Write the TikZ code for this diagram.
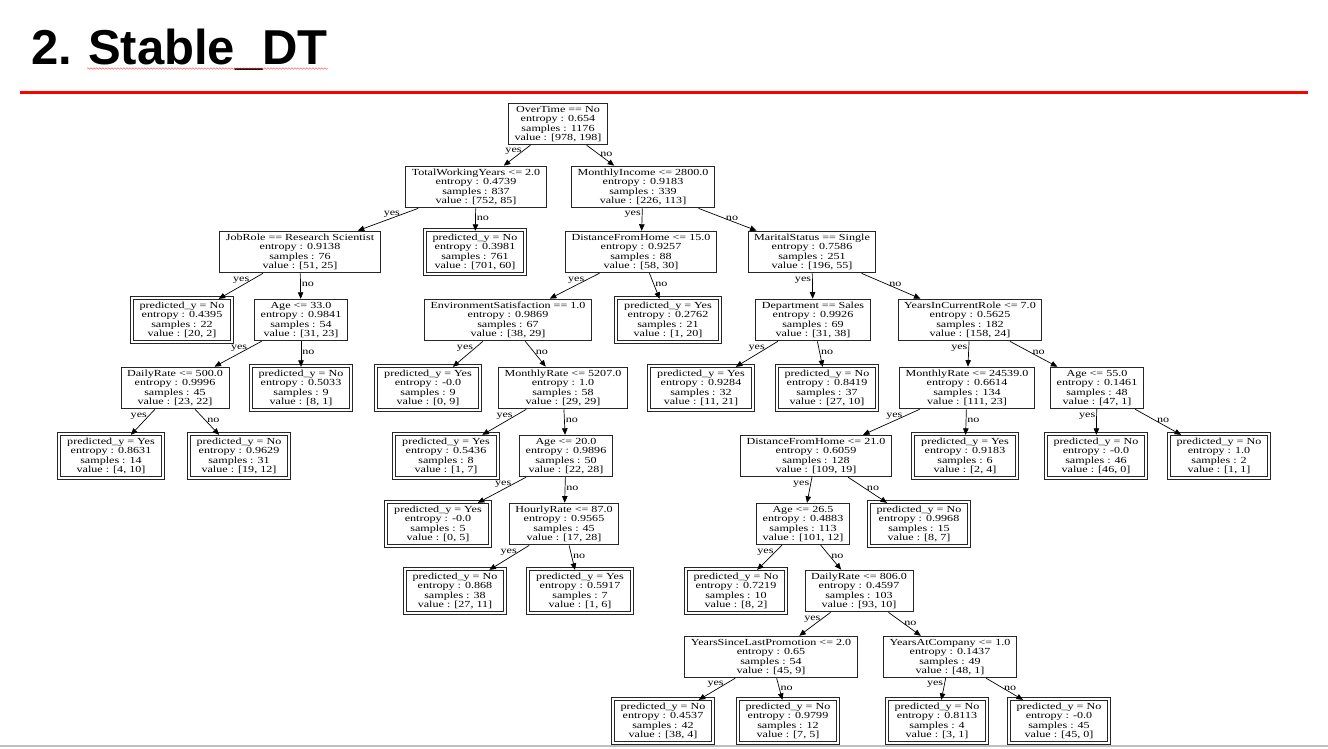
\documentclass[tikz,border=0pt]{standalone}
\usepackage{fontspec}
\usetikzlibrary{arrows.meta,decorations.pathmorphing}
\newfontfamily\treefont[FakeStretch=1.3]{Liberation Serif}
\newfontfamily\titlefont{Liberation Sans}
\tikzset{
  box/.style={draw=black!85, line width=0.9pt, rectangle, inner xsep=6pt, inner ysep=3pt,
    align=center, font={\treefont\fontsize{9.3}{9.3}\selectfont}},
  leafbox/.style={box, inner xsep=6.5pt, inner ysep=2.8pt},
  frame/.style={draw=black!85, line width=0.9pt},
  tedge/.style={-{Triangle[length=6.5pt,width=5.5pt]}, line width=0.7pt, black},
  ylab/.style={pos=0.28, anchor=east, inner sep=1pt, font={\treefont\fontsize{9.3}{9.3}\selectfont}},
  nlab/.style={pos=0.45, anchor=west, inner sep=1pt, font={\treefont\fontsize{9.3}{9.3}\selectfont}},
}
\begin{document}
\begin{tikzpicture}[x=1pt,y=-1pt]
\useasboundingbox (0,0) rectangle (1328,749);
\fill[white] (0,0) rectangle (1328,749);
% title
\node[anchor=base west, inner sep=0pt, font={\titlefont\bfseries\fontsize{49}{55}\selectfont}] (title) at (31,65) {2.\kern-2pt{} Stable\_DT};
\draw[red!80, line width=0.3pt, decorate, decoration={snake, amplitude=0.8pt, segment length=3pt}] (87,68.5) -- (328,68.5);
\draw[red, line width=3pt] (20,93) -- (1308,93);
\draw[black!25, line width=1.5pt] (0,746) -- (1328,746);

% nodes
\node[box] (n0) at (558,124) {OverTime == No\\entropy : 0.654\\samples : 1176\\value : [978, 198]};
\node[box] (n1) at (476,187) {TotalWorkingYears <= 2.0\\entropy : 0.4739\\samples : 837\\value : [752, 85]};
\node[box] (n2) at (643,187) {MonthlyIncome <= 2800.0\\entropy : 0.9183\\samples : 339\\value : [226, 113]};
\node[box] (n3) at (300,252) {JobRole == Research Scientist\\entropy : 0.9138\\samples : 76\\value : [51, 25]};
\node[leafbox] (n4) at (475,252) {predicted\_y = No\\entropy : 0.3981\\samples : 761\\value : [701, 60]};
\node[box] (n5) at (641,252) {DistanceFromHome <= 15.0\\entropy : 0.9257\\samples : 88\\value : [58, 30]};
\node[box] (n6) at (812,252) {MaritalStatus == Single\\entropy : 0.7586\\samples : 251\\value : [196, 55]};
\node[leafbox] (n7) at (182,320) {predicted\_y = No\\entropy : 0.4395\\samples : 22\\value : [20, 2]};
\node[box] (n8) at (301,320) {Age <= 33.0\\entropy : 0.9841\\samples : 54\\value : [31, 23]};
\node[box] (n9) at (508,320) {EnvironmentSatisfaction == 1.0\\entropy : 0.9869\\samples : 67\\value : [38, 29]};
\node[leafbox] (n10) at (668,320) {predicted\_y = Yes\\entropy : 0.2762\\samples : 21\\value : [1, 20]};
\node[box] (n11) at (813,320) {Department == Sales\\entropy : 0.9926\\samples : 69\\value : [31, 38]};
\node[box] (n12) at (970,320) {YearsInCurrentRole <= 7.0\\entropy : 0.5625\\samples : 182\\value : [158, 24]};
\node[box] (n13) at (175,388) {DailyRate <= 500.0\\entropy : 0.9996\\samples : 45\\value : [23, 22]};
\node[leafbox] (n14) at (301,388) {predicted\_y = No\\entropy : 0.5033\\samples : 9\\value : [8, 1]};
\node[leafbox] (n15) at (428,388) {predicted\_y = Yes\\entropy : -0.0\\samples : 9\\value : [0, 9]};
\node[box] (n16) at (563,388) {MonthlyRate <= 5207.0\\entropy : 1.0\\samples : 58\\value : [29, 29]};
\node[leafbox] (n17) at (701,388) {predicted\_y = Yes\\entropy : 0.9284\\samples : 32\\value : [11, 21]};
\node[leafbox] (n18) at (827,388) {predicted\_y = No\\entropy : 0.8419\\samples : 37\\value : [27, 10]};
\node[box] (n19) at (967,388) {MonthlyRate <= 24539.0\\entropy : 0.6614\\samples : 134\\value : [111, 23]};
\node[box] (n20) at (1097,388) {Age <= 55.0\\entropy : 0.1461\\samples : 48\\value : [47, 1]};
\node[leafbox] (n21) at (111,456) {predicted\_y = Yes\\entropy : 0.8631\\samples : 14\\value : [4, 10]};
\node[leafbox] (n22) at (239,456) {predicted\_y = No\\entropy : 0.9629\\samples : 31\\value : [19, 12]};
\node[leafbox] (n23) at (446,456) {predicted\_y = Yes\\entropy : 0.5436\\samples : 8\\value : [1, 7]};
\node[box] (n24) at (566,456) {Age <= 20.0\\entropy : 0.9896\\samples : 50\\value : [22, 28]};
\node[box] (n25) at (816,456) {DistanceFromHome <= 21.0\\entropy : 0.6059\\samples : 128\\value : [109, 19]};
\node[leafbox] (n26) at (965,456) {predicted\_y = Yes\\entropy : 0.9183\\samples : 6\\value : [2, 4]};
\node[leafbox] (n27) at (1096,456) {predicted\_y = No\\entropy : -0.0\\samples : 46\\value : [46, 0]};
\node[leafbox] (n28) at (1219,456) {predicted\_y = No\\entropy : 1.0\\samples : 2\\value : [1, 1]};
\node[leafbox] (n29) at (438,524) {predicted\_y = Yes\\entropy : -0.0\\samples : 5\\value : [0, 5]};
\node[box] (n30) at (564,524) {HourlyRate <= 87.0\\entropy : 0.9565\\samples : 45\\value : [17, 28]};
\node[box] (n31) at (803,524) {Age <= 26.5\\entropy : 0.4883\\samples : 113\\value : [101, 12]};
\node[leafbox] (n32) at (919,524) {predicted\_y = No\\entropy : 0.9968\\samples : 15\\value : [8, 7]};
\node[leafbox] (n33) at (455,591) {predicted\_y = No\\entropy : 0.868\\samples : 38\\value : [27, 11]};
\node[leafbox] (n34) at (580,591) {predicted\_y = Yes\\entropy : 0.5917\\samples : 7\\value : [1, 6]};
\node[leafbox] (n35) at (736,591) {predicted\_y = No\\entropy : 0.7219\\samples : 10\\value : [8, 2]};
\node[box] (n36) at (859,591) {DailyRate <= 806.0\\entropy : 0.4597\\samples : 103\\value : [93, 10]};
\node[box] (n37) at (771,657) {YearsSinceLastPromotion <= 2.0\\entropy : 0.65\\samples : 54\\value : [45, 9]};
\node[box] (n38) at (950,657) {YearsAtCompany <= 1.0\\entropy : 0.1437\\samples : 49\\value : [48, 1]};
\node[leafbox] (n39) at (663,721) {predicted\_y = No\\entropy : 0.4537\\samples : 42\\value : [38, 4]};
\node[leafbox] (n40) at (788,721) {predicted\_y = No\\entropy : 0.9799\\samples : 12\\value : [7, 5]};
\node[leafbox] (n41) at (937,721) {predicted\_y = No\\entropy : 0.8113\\samples : 4\\value : [3, 1]};
\node[leafbox] (n42) at (1059,721) {predicted\_y = No\\entropy : -0.0\\samples : 45\\value : [45, 0]};

% outer frames of leaves
\foreach \l in {n4,n7,n10,n14,n15,n17,n18,n21,n22,n23,n26,n27,n28,n29,n32,n33,n34,n35,n39,n40,n41,n42}{
  \draw[frame] ([xshift=-2.6pt,yshift=-2.6pt]\l.south west) rectangle ([xshift=2.6pt,yshift=2.6pt]\l.north east);
}

% edges
\foreach \p/\y/\n in {n0/n1/n2, n1/n3/n4, n2/n5/n6, n3/n7/n8, n8/n13/n14, n13/n21/n22,
  n5/n9/n10, n9/n15/n16, n16/n23/n24, n24/n29/n30, n30/n33/n34, n6/n11/n12,
  n11/n17/n18, n12/n19/n20, n19/n25/n26, n20/n27/n28, n25/n31/n32, n31/n35/n36,
  n36/n37/n38, n37/n39/n40, n38/n41/n42}{
  \draw[tedge] (\p) -- node[ylab]{yes} (\y);
  \draw[tedge] (\p) -- node[nlab]{no} (\n);
}
\end{tikzpicture}
\end{document}
